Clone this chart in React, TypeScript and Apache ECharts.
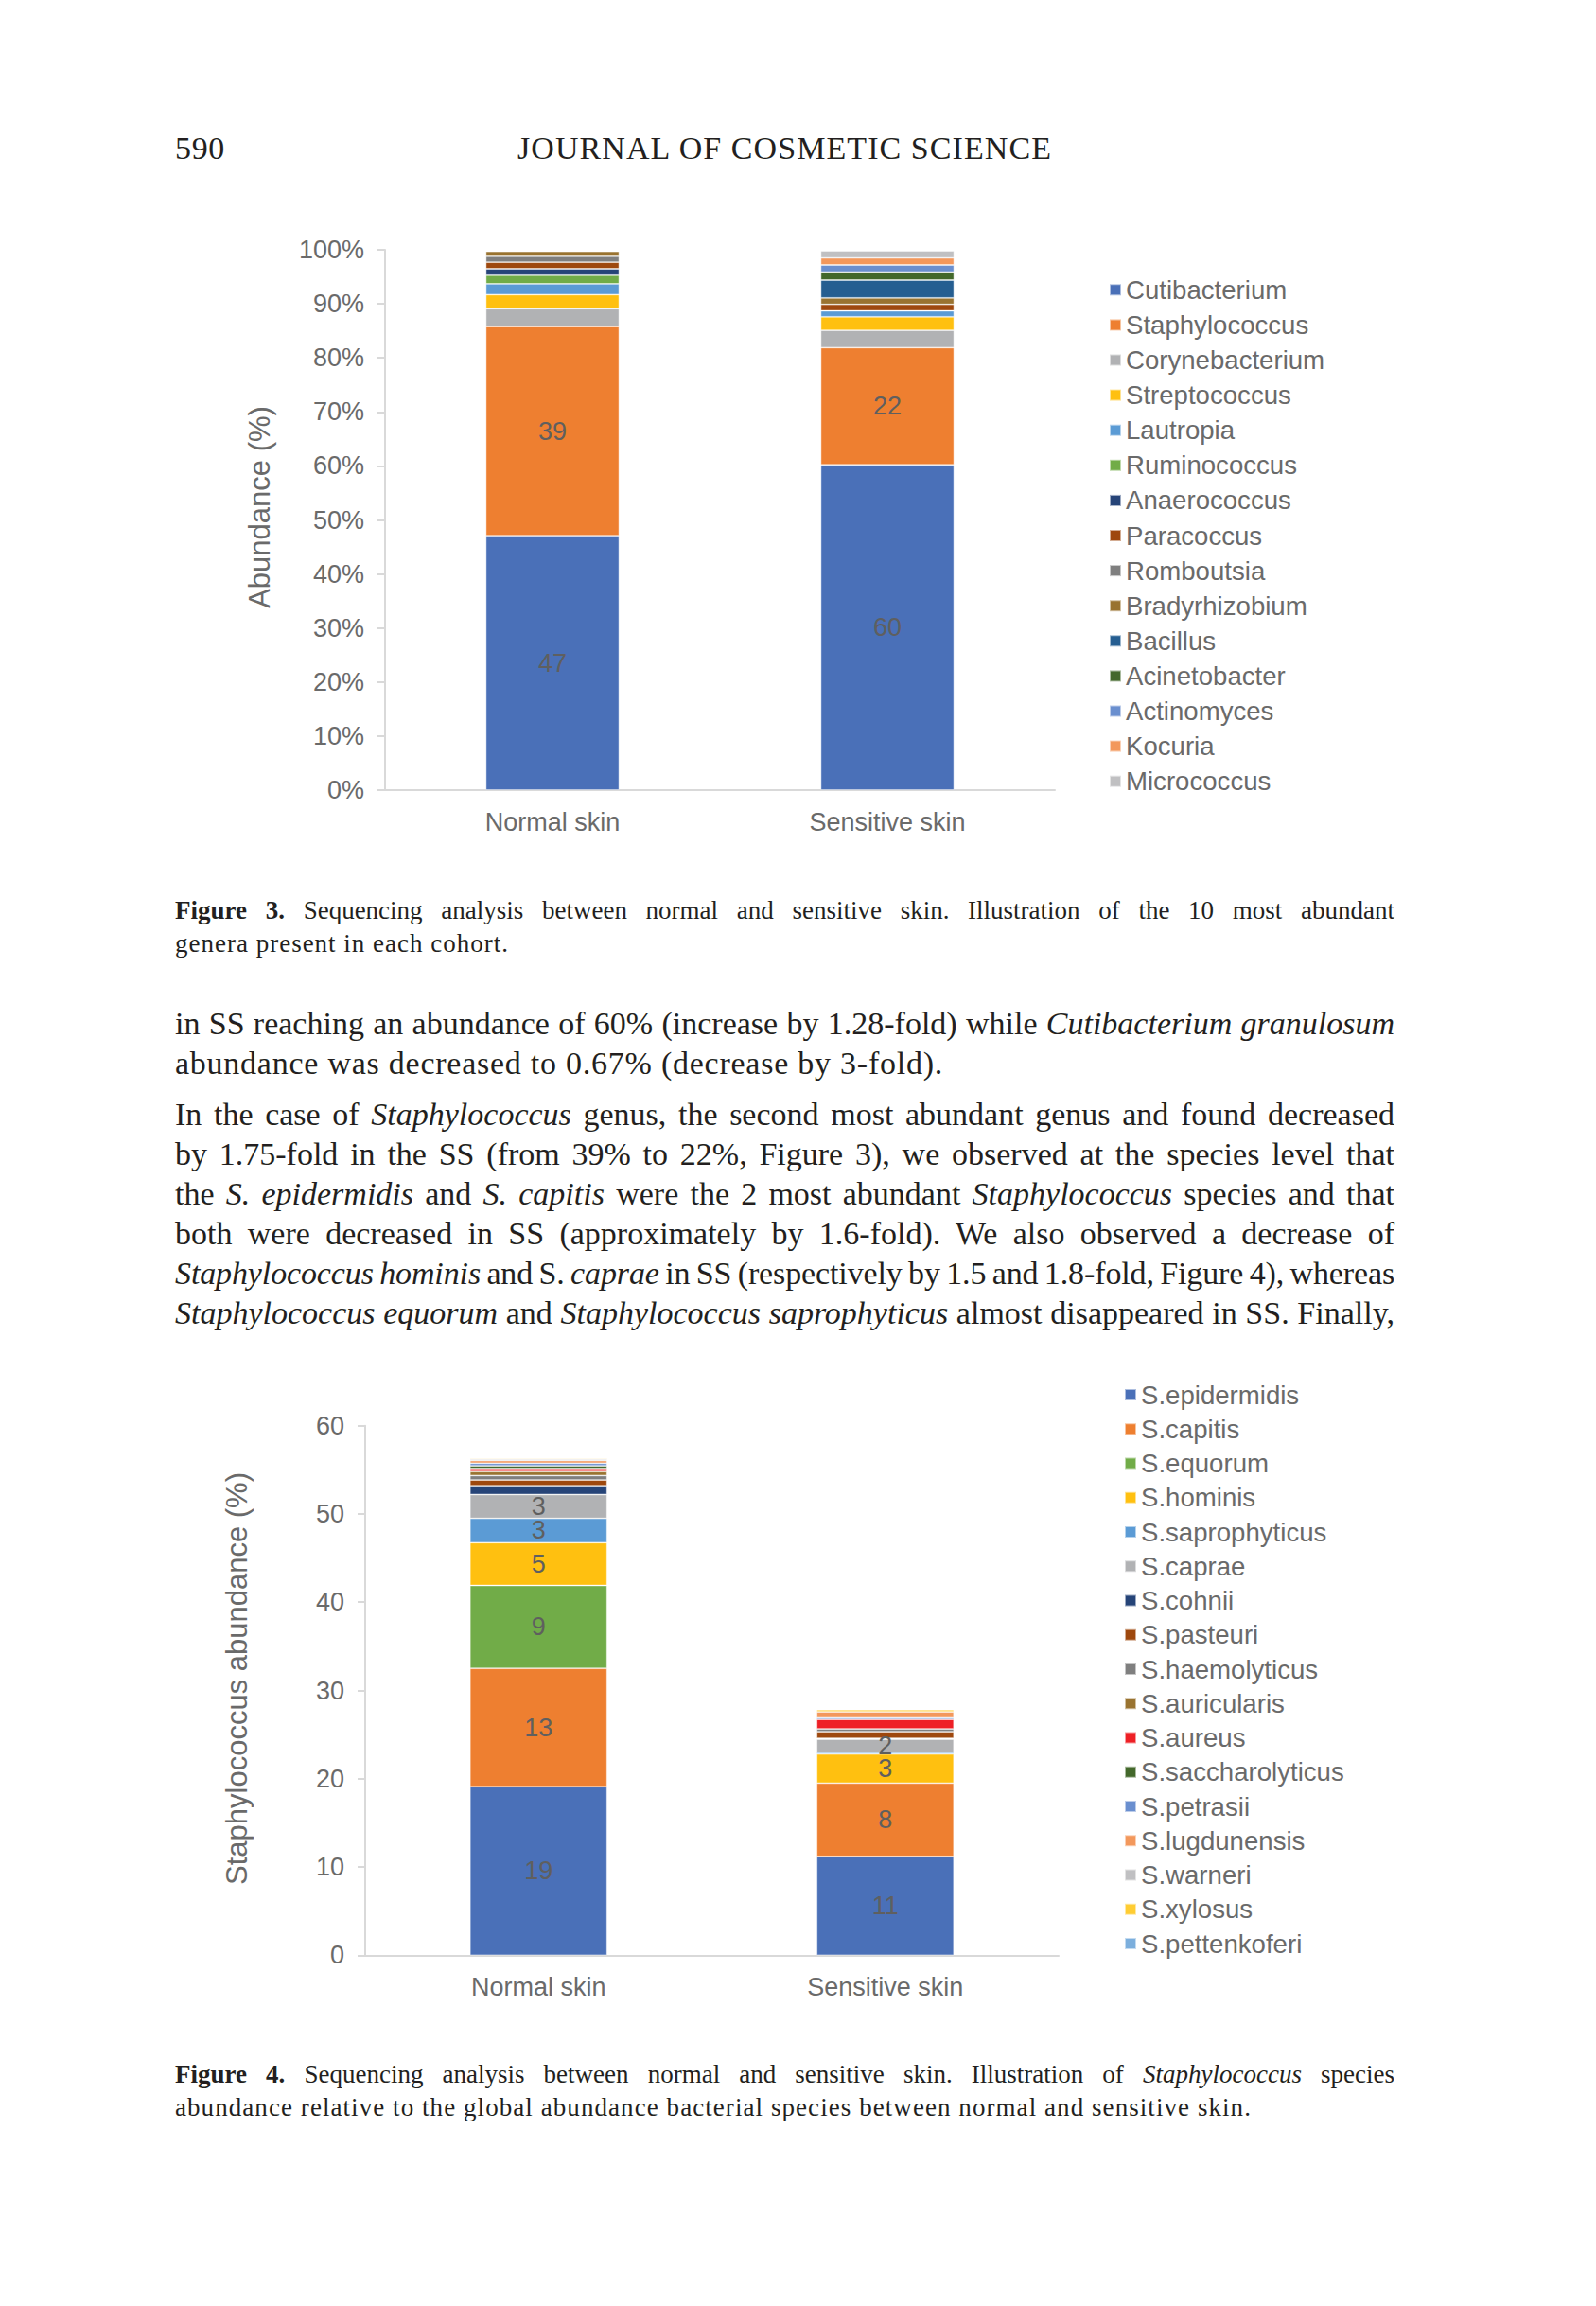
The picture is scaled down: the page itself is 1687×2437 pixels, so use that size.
import React, { useEffect, useRef } from "react";
import * as echarts from "echarts";

// ---------- DATA ----------
const categories = ["Normal skin", "Sensitive skin"];

const genera = [
  "Cutibacterium", "Staphylococcus", "Corynebacterium", "Streptococcus", "Lautropia",
  "Ruminococcus", "Anaerococcus", "Paracoccus", "Romboutsia", "Bradyrhizobium",
  "Bacillus", "Acinetobacter", "Actinomyces", "Kocuria", "Micrococcus",
];
const generaNormal = [47.1, 38.7, 3.3, 2.6, 2.0, 1.6, 1.2, 1.2, 1.1, 0.9, 0, 0, 0, 0, 0];
const generaSensitive = [60.2, 21.7, 3.2, 2.5, 1.1, 0, 0, 1.2, 0, 1.2, 3.3, 1.5, 1.3, 1.3, 1.3];
const generaColors = [
  "#4A70B8", "#EE7F30", "#B1B2B4", "#FFC010", "#5B9BD5",
  "#71AC48", "#264478", "#9E480E", "#7F7F7F", "#997330",
  "#255E91", "#43682B", "#6A8FCF", "#F3985C", "#C0C0C2",
];
const generaLabelled = ["Cutibacterium", "Staphylococcus"];
const fig3TickStep = 10;
const fig3AxisTitle = "Abundance (%)";

const species = [
  "S.epidermidis", "S.capitis", "S.equorum", "S.hominis", "S.saprophyticus", "S.caprae",
  "S.cohnii", "S.pasteuri", "S.haemolyticus", "S.auricularis", "S.aureus",
  "S.saccharolyticus", "S.petrasii", "S.lugdunensis", "S.warneri", "S.xylosus", "S.pettenkoferi",
];
const speciesNormal = [19.1, 13.4, 9.4, 4.85, 2.75, 2.7, 1.0, 0.65, 0.5, 0.45, 0.35, 0.3, 0.3, 0.3, 0.15, 0.1, 0.1];
const speciesSensitive = [11.2, 8.3, 0, 3.3, 0.18, 1.5, 0.1, 0.75, 0.32, 0, 1.07, 0, 0.18, 0.68, 0, 0.25, 0];
const speciesColors = [
  "#4A70B8", "#EE7F30", "#71AC48", "#FFC010", "#5B9BD5", "#B1B2B4",
  "#264478", "#9E480E", "#7F7F7F", "#997330", "#EE2026",
  "#43682B", "#6A8FCF", "#F3985C", "#C0C0C2", "#FFCD33", "#7CAFDD",
];
const speciesLabelled = ["S.epidermidis", "S.capitis", "S.equorum", "S.hominis", "S.saprophyticus", "S.caprae"];
const fig4TickStep = 10;
const fig4AxisTitle = "Staphylococcus abundance (%)";

// ---------- STYLE ----------
const SANS = '"Liberation Sans", Arial, sans-serif';
const SERIF = '"Liberation Serif", "Times New Roman", serif';
const GREY_TEXT = "#6A6A6A";
const AXIS_GREY = "#D9D9D9";
const INK = "#231F20";

function makeSeries(names: string[], normal: number[], sens: number[], colors: string[], labelled: string[], idx: number, barWidth: number) {
  return names.map((n, i) => ({
    type: "bar",
    name: n,
    stack: "s" + idx,
    xAxisIndex: idx,
    yAxisIndex: idx,
    barWidth,
    data: [normal[i], sens[i]].map((v) => (v === 0 ? "-" : v)),
    itemStyle: { color: colors[i], borderColor: "rgba(255,255,255,0.55)", borderWidth: 0.8 },
    label: {
      show: labelled.includes(n),
      position: "inside",
      fontSize: 27,
      fontFamily: SANS,
      color: "#5F5F5F",
      formatter: (p: any) => (typeof p.value === "number" && p.value >= 1 ? String(Math.round(p.value)) : ""),
    },
  }));
}

function axisY(idx: number, max: number, step: number, pct: boolean) {
  return {
    type: "value",
    gridIndex: idx,
    min: 0,
    max,
    interval: step,
    axisLine: { show: true, lineStyle: { color: AXIS_GREY, width: 2 } },
    axisTick: { show: true, length: 8, lineStyle: { color: AXIS_GREY, width: 2 } },
    splitLine: { show: false },
    axisLabel: { fontSize: 27, color: GREY_TEXT, fontFamily: SANS, margin: 22, formatter: pct ? "{value}%" : "{value}" },
  };
}

function axisX(idx: number) {
  return {
    type: "category",
    gridIndex: idx,
    data: categories,
    axisLine: { show: true, lineStyle: { color: AXIS_GREY, width: 2 } },
    axisTick: { show: false },
    axisLabel: { fontSize: 27, color: GREY_TEXT, fontFamily: SANS, margin: 20 },
  };
}

function legend(data: string[], left: number, top: number, gap: number) {
  return {
    data,
    orient: "vertical",
    left,
    top,
    padding: 0,
    itemWidth: 12,
    itemHeight: 12,
    itemGap: gap,
    icon: "rect",
    selectedMode: false,
    textStyle: { fontSize: 27.6, lineHeight: 28, color: GREY_TEXT, fontFamily: SANS },
  };
}

function axisTitle(text: string, x: number, y: number) {
  return {
    type: "text",
    x,
    y,
    rotation: Math.PI / 2,
    style: { text, fontSize: 31, fill: GREY_TEXT, fontFamily: SANS, align: "center", verticalAlign: "middle" },
  };
}

// ---------- TEXT ----------
type Seg = [string, "n" | "i" | "b"];
type Line = { x: number; y: number; target: number; mode: "ws" | "ls"; fs: number; segs: Seg[] };

const textLines: Line[] = [
  { x: 185, y: 160, target: 53, mode: "ls", fs: 34, segs: [["590", "n"]] },
  { x: 547, y: 160, target: 565, mode: "ls", fs: 34, segs: [["JOURNAL OF COSMETIC SCIENCE", "n"]] },
  { x: 185, y: 965, target: 1289, mode: "ws", fs: 27, segs: [["Figure 3.", "b"], [" Sequencing analysis between normal and sensitive skin. Illustration of the 10 most abundant", "n"]] },
  { x: 185, y: 1000, target: 353, mode: "ls", fs: 27, segs: [["genera present in each cohort.", "n"]] },
  { x: 185, y: 1085, target: 1289, mode: "ws", fs: 34, segs: [["in SS reaching an abundance of 60% (increase by 1.28-fold) while ", "n"], ["Cutibacterium granulosum", "i"]] },
  { x: 185, y: 1127, target: 812, mode: "ls", fs: 34, segs: [["abundance was decreased to 0.67% (decrease by 3-fold).", "n"]] },
  { x: 185, y: 1181, target: 1289, mode: "ws", fs: 34, segs: [["In the case of ", "n"], ["Staphylococcus", "i"], [" genus, the second most abundant genus and found decreased", "n"]] },
  { x: 185, y: 1223, target: 1289, mode: "ws", fs: 34, segs: [["by 1.75-fold in the SS (from 39% to 22%, Figure 3), we observed at the species level that", "n"]] },
  { x: 185, y: 1265, target: 1289, mode: "ws", fs: 34, segs: [["the ", "n"], ["S. epidermidis", "i"], [" and ", "n"], ["S. capitis", "i"], [" were the 2 most abundant ", "n"], ["Staphylococcus", "i"], [" species and that", "n"]] },
  { x: 185, y: 1307, target: 1289, mode: "ws", fs: 34, segs: [["both were decreased in SS (approximately by 1.6-fold). We also observed a decrease of", "n"]] },
  { x: 185, y: 1349, target: 1289, mode: "ws", fs: 34, segs: [["Staphylococcus hominis", "i"], [" and S. ", "n"], ["caprae", "i"], [" in SS (respectively by 1.5 and 1.8-fold, Figure 4), whereas", "n"]] },
  { x: 185, y: 1391, target: 1289, mode: "ws", fs: 34, segs: [["Staphylococcus equorum", "i"], [" and ", "n"], ["Staphylococcus saprophyticus", "i"], [" almost disappeared in SS. Finally,", "n"]] },
  { x: 185, y: 2195, target: 1289, mode: "ws", fs: 27, segs: [["Figure 4.", "b"], [" Sequencing analysis between normal and sensitive skin. Illustration of ", "n"], ["Staphylococcus", "i"], [" species", "n"]] },
  { x: 185, y: 2230, target: 1138, mode: "ls", fs: 27, segs: [["abundance relative to the global abundance bacterial species between normal and sensitive skin.", "n"]] },
];

function fitLines(root: HTMLElement) {
  const spans = root.querySelectorAll<HTMLSpanElement>("span[data-fit]");
  spans.forEach((sp) => {
    const target = Number(sp.dataset.target);
    const mode = sp.dataset.mode;
    sp.style.wordSpacing = "0px";
    sp.style.letterSpacing = "0px";
    const w = sp.getBoundingClientRect().width;
    const text = sp.textContent || "";
    const chars = text.length;
    const spaces = (text.match(/ /g) || []).length;
    if (mode === "ws" && spaces > 0) {
      let ws = (target - w) / spaces;
      if (ws < -2) {
        const ls = (target - w + 2 * spaces) / chars;
        sp.style.letterSpacing = ls + "px";
        ws = -2;
      }
      sp.style.wordSpacing = ws + "px";
    } else {
      sp.style.letterSpacing = (target - w) / chars + "px";
    }
  });
}

export default function App() {
  const chartRef = useRef<HTMLDivElement>(null);
  const textRef = useRef<HTMLDivElement>(null);

  useEffect(() => {
    if (!chartRef.current) return;
    const chart = echarts.init(chartRef.current, undefined, { renderer: "svg" });
    chart.setOption({
      animation: false,
      backgroundColor: "transparent",
      grid: [
        { left: 407, top: 264, width: 708, height: 571 },
        { left: 386, top: 1506.7, width: 733, height: 559.6 },
      ],
      xAxis: [axisX(0), axisX(1)],
      yAxis: [axisY(0, 100, fig3TickStep, true), axisY(1, 60, fig4TickStep, false)],
      legend: [legend(genera, 1172, 292.3, 9.1), legend(species, 1188, 1460, 8.25)],
      graphic: [axisTitle(fig3AxisTitle, 274, 536), axisTitle(fig4AxisTitle, 250, 1774)],
      series: [
        ...makeSeries(genera, generaNormal, generaSensitive, generaColors, generaLabelled, 0, 141),
        ...makeSeries(species, speciesNormal, speciesSensitive, speciesColors, speciesLabelled, 1, 145),
      ],
    });
    if (textRef.current) {
      const el = textRef.current;
      fitLines(el);
      if ((document as any).fonts && (document as any).fonts.ready) {
        (document as any).fonts.ready.then(() => fitLines(el));
      }
    }
    return () => chart.dispose();
  }, []);

  return (
    <div style={{ position: "absolute", left: 0, top: 0, width: 1687, height: 2437, background: "#fff", overflow: "hidden" }}>
      <div ref={chartRef} style={{ position: "absolute", left: 0, top: 0, width: 1687, height: 2437 }} />
      <div ref={textRef} style={{ position: "absolute", left: 0, top: 0, width: 1687, height: 2437, pointerEvents: "none" }}>
        {textLines.map((ln, k) => (
          <div
            key={k}
            style={{
              position: "absolute",
              left: ln.x,
              top: ln.y - ln.fs * 0.6,
              fontFamily: SERIF,
              fontSize: ln.fs,
              lineHeight: ln.fs + "px",
              whiteSpace: "pre",
              color: INK,
            }}
          >
            <span data-fit="1" data-target={ln.target} data-mode={ln.mode} style={{ display: "inline-block", whiteSpace: "pre" }}>
              {ln.segs.map(([t, s], j) =>
                s === "i" ? <i key={j}>{t}</i> : s === "b" ? <b key={j}>{t}</b> : <React.Fragment key={j}>{t}</React.Fragment>
              )}
            </span>
          </div>
        ))}
      </div>
    </div>
  );
}
